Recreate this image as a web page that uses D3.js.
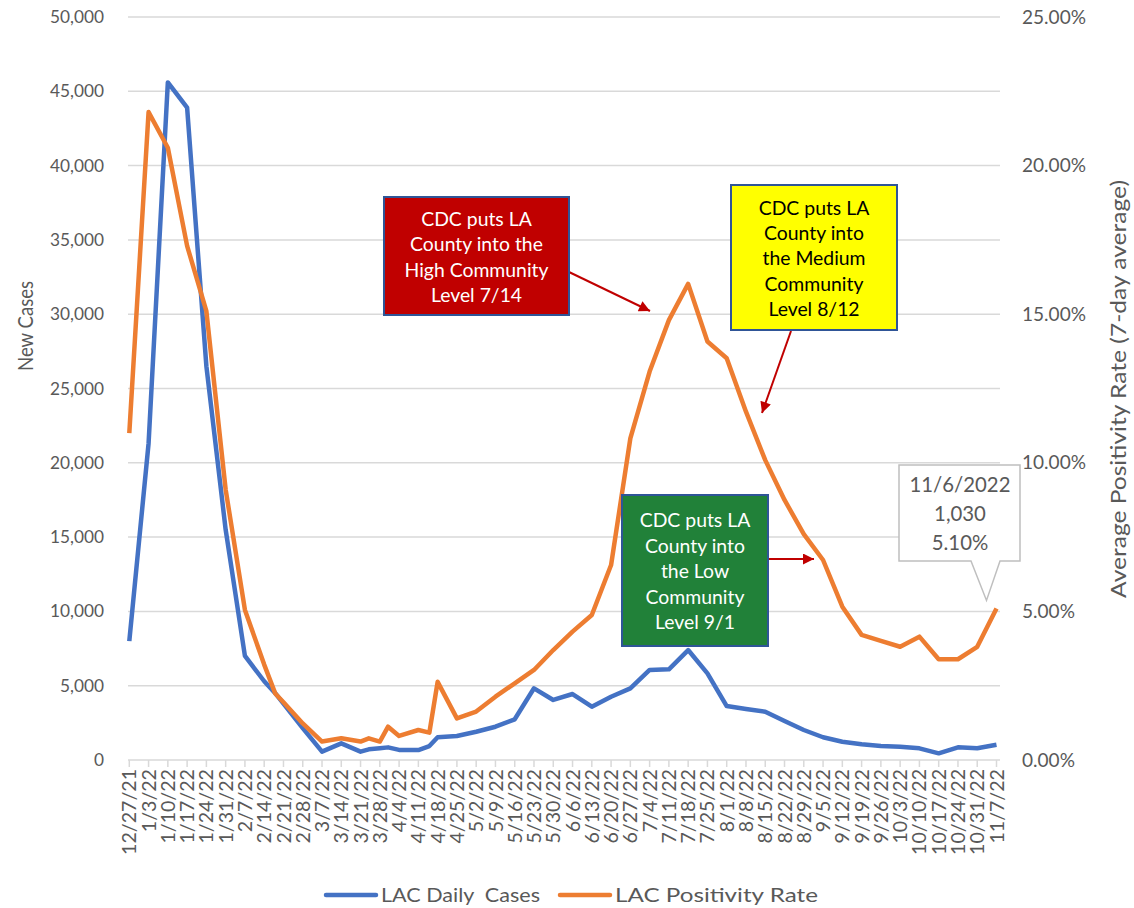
<!DOCTYPE html>
<html><head><meta charset="utf-8">
<script src="https://cdn.jsdelivr.net/npm/d3@7"></script>
<style>
html,body{margin:0;padding:0;background:#fff;}
svg{display:block;font-family:Lato,"Open Sans",sans-serif;}
</style></head>
<body><svg id="chart" width="1134" height="908"></svg>
<script>
// ---- data ----
const dates = ["2021-12-27","2022-01-03","2022-01-10","2022-01-17","2022-01-24","2022-01-31","2022-02-07","2022-02-14","2022-02-18","2022-02-21","2022-02-28","2022-03-07","2022-03-14","2022-03-21","2022-03-24","2022-03-28","2022-03-31","2022-04-04","2022-04-11","2022-04-15","2022-04-18","2022-04-25","2022-05-02","2022-05-09","2022-05-16","2022-05-23","2022-05-30","2022-06-06","2022-06-13","2022-06-20","2022-06-27","2022-07-04","2022-07-11","2022-07-18","2022-07-25","2022-08-01","2022-08-08","2022-08-15","2022-08-22","2022-08-29","2022-09-05","2022-09-12","2022-09-19","2022-09-26","2022-10-03","2022-10-10","2022-10-17","2022-10-24","2022-10-31","2022-11-07"];
const dailyCases = [8000,21300,45600,43900,26500,15500,7000,5300,4500,3800,2150,560,1120,560,720,790,850,680,670,940,1530,1615,1900,2240,2740,4825,4040,4440,3590,4260,4820,6060,6100,7400,5830,3630,3430,3250,2620,2020,1530,1230,1055,940,895,785,450,855,785,1030];
const positivityRate = [11.0,21.8,20.6,17.3,15.1,9.1,5.05,3.21,2.24,1.94,1.23,0.62,0.73,0.62,0.73,0.62,1.12,0.81,1.01,0.92,2.63,1.40,1.63,2.13,2.58,3.03,3.70,4.32,4.88,6.56,10.82,13.07,14.80,16.02,14.08,13.52,11.72,10.09,8.75,7.60,6.73,5.16,4.21,4.01,3.81,4.15,3.39,3.39,3.81,5.10];
const tickLabels = ["12/27/21","1/3/22","1/10/22","1/17/22","1/24/22","1/31/22","2/7/22","2/14/22","2/21/22","2/28/22","3/7/22","3/14/22","3/21/22","3/28/22","4/4/22","4/11/22","4/18/22","4/25/22","5/2/22","5/9/22","5/16/22","5/23/22","5/30/22","6/6/22","6/13/22","6/20/22","6/27/22","7/4/22","7/11/22","7/18/22","7/25/22","8/1/22","8/8/22","8/15/22","8/22/22","8/29/22","9/5/22","9/12/22","9/19/22","9/26/22","10/3/22","10/10/22","10/17/22","10/24/22","10/31/22","11/7/22"];
const leftTicks = [0,5000,10000,15000,20000,25000,30000,35000,40000,45000,50000];
const rightTicks = [0,5,10,15,20,25];
const seriesNames = ["LAC Daily  Cases","LAC Positivity Rate"];
const seriesColors = ["#4472c4","#ed7d31"];
const annotations = [
  {lines:["CDC puts LA","County into the","High Community","Level 7/14"], fill:"#c00000", text:"#ffffff"},
  {lines:["CDC puts LA","County into","the Medium","Community","Level 8/12"], fill:"#ffff00", text:"#000000"},
  {lines:["CDC puts LA","County into","the Low","Community","Level 9/1"], fill:"#218139", text:"#ffffff"}
];
const calloutLines = ["11/6/2022","1,030","5.10%"];

(function(){
const parse = d3.utcParse("%Y-%m-%d");
const parseTick = d3.utcParse("%m/%d/%y");
const svg = d3.select("#chart");
const pL = 129.3, pR = 996.5, pT = 17, pB = 760;
const x = d3.scaleUtc().domain([parse(dates[0]), parse(dates[dates.length-1])]).range([pL, pR]);
const yL = d3.scaleLinear().domain([0,50000]).range([pB, pT]);
const yR = d3.scaleLinear().domain([0,25]).range([pB, pT]);
const grey = "#595959";

function fit(sample, width){
  const t = svg.append("text").attr("font-size",100).style("white-space","pre").text(sample);
  const w = t.node().getComputedTextLength();
  t.remove();
  return 100*width/w;
}
const fsY = fit("50,000",54), fsR = fit("25.00%",64), fsX = fit("12/27/21",86);
const fsBox = fit("High Community",144), fsCall = fit("11/6/2022",101);

svg.append("g").selectAll("line").data(leftTicks.slice(1)).join("line")
  .attr("x1",128).attr("x2",1000).attr("y1",d=>yL(d)).attr("y2",d=>yL(d))
  .attr("stroke","#d9d9d9").attr("stroke-width",1.5);

const xg = svg.append("g");
xg.append("line").attr("x1",128).attr("x2",1000).attr("y1",pB).attr("y2",pB).attr("stroke","#d9d9d9").attr("stroke-width",1.5);
xg.selectAll("line.t").data(tickLabels).join("line").attr("class","t")
  .attr("x1",d=>x(parseTick(d))).attr("x2",d=>x(parseTick(d)))
  .attr("y1",pB).attr("y2",pB+7).attr("stroke","#d9d9d9").attr("stroke-width",1.5);
xg.selectAll("text").data(tickLabels).join("text")
  .attr("transform",d=>`translate(${x(parseTick(d))},${pB+9}) rotate(-90)`)
  .attr("text-anchor","end").attr("dy","0.36em")
  .attr("font-size",fsX).attr("fill",grey).text(d=>d);

const fmt = d3.format(",");
svg.append("g").selectAll("text").data(leftTicks).join("text")
  .attr("x",104).attr("y",d=>yL(d)).attr("dy","0.35em").attr("text-anchor","end")
  .attr("font-size",fsY).attr("fill",grey).text(d=>fmt(d));
svg.append("g").selectAll("text").data(rightTicks).join("text")
  .attr("x",1022).attr("y",d=>yR(d)).attr("dy","0.35em").attr("text-anchor","start")
  .attr("font-size",fsR).attr("fill",grey).text(d=>d3.format(".2f")(d)+"%");

svg.append("text").attr("transform","translate(33,326) rotate(-90)").attr("text-anchor","middle")
  .attr("font-size",21.5).attr("textLength",90).attr("lengthAdjust","spacingAndGlyphs")
  .attr("fill",grey).text("New Cases");
svg.append("text").attr("transform","translate(1126,389) rotate(-90)").attr("text-anchor","middle")
  .attr("font-size",20.5).attr("textLength",418).attr("lengthAdjust","spacingAndGlyphs")
  .attr("fill",grey).text("Average Positivity Rate (7-day average)");

const lineCases = d3.line().x((d,i)=>x(parse(dates[i]))).y(d=>yL(d));
const lineRate = d3.line().x((d,i)=>x(parse(dates[i]))).y(d=>yR(d));
svg.append("path").attr("d",lineCases(dailyCases)).attr("fill","none").attr("stroke",seriesColors[0])
  .attr("stroke-width",4.5).attr("stroke-linejoin","round");
svg.append("path").attr("d",lineRate(positivityRate)).attr("fill","none").attr("stroke",seriesColors[1])
  .attr("stroke-width",4.5).attr("stroke-linejoin","round");

const defs = svg.append("defs");
defs.append("marker").attr("id","arr").attr("viewBox","0 0 10 10").attr("refX",10).attr("refY",5)
  .attr("markerWidth",6).attr("markerHeight",5.5).attr("markerUnits","strokeWidth").attr("orient","auto")
  .append("path").attr("d","M0,0 L10,5 L0,10 Z").attr("fill","#c00000");

const boxes = [
  {x:384,y:197,w:185,h:118, lineY:[219,244,270,295], arrow:[569,272,650,311]},
  {x:731,y:185,w:166,h:145, lineY:[208,233,258,284,309], arrow:[791,331,762,413]},
  {x:622,y:495,w:146,h:151, lineY:[520,546,571,597,622], arrow:[768,559,814,559]}
];
boxes.forEach((b,k)=>{
  const a = annotations[k];
  svg.append("line").attr("x1",b.arrow[0]).attr("y1",b.arrow[1]).attr("x2",b.arrow[2]).attr("y2",b.arrow[3])
    .attr("stroke","#c00000").attr("stroke-width",2).attr("marker-end","url(#arr)");
  svg.append("rect").attr("x",b.x).attr("y",b.y).attr("width",b.w).attr("height",b.h)
    .attr("fill",a.fill).attr("stroke","#2f5597").attr("stroke-width",2);
  svg.append("g").selectAll("text").data(a.lines).join("text")
    .attr("x",b.x+b.w/2).attr("y",(d,i)=>b.lineY[i]).attr("dy","0.35em").attr("text-anchor","middle")
    .attr("font-size",fsBox).attr("fill",a.text).text(d=>d);
});

const lastI = dates.length-1;
const tipX = x(parse(dates[lastI])) - 10, tipY = yR(positivityRate[lastI]) - 8;
svg.append("path")
  .attr("d",`M899,465 H1020 V561 H1000 L${tipX},${tipY} L971,561 H899 Z`)
  .attr("fill","#fff").attr("stroke","#bfbfbf").attr("stroke-width",1.5);
svg.append("g").selectAll("text").data(calloutLines).join("text")
  .attr("x",960).attr("y",(d,i)=>485+i*29).attr("dy","0.35em").attr("text-anchor","middle")
  .attr("font-size",fsCall).attr("fill",grey).text(d=>d);

const leg = [{x:326,tx:381,w:159},{x:560,tx:615,w:203}];
leg.forEach((l,i)=>{
  svg.append("line").attr("x1",l.x).attr("x2",l.x+50).attr("y1",895).attr("y2",895)
    .attr("stroke",seriesColors[i]).attr("stroke-width",4.5).attr("stroke-linecap","round");
  svg.append("text").attr("x",l.tx).attr("y",895).attr("dy","0.35em").attr("font-size",20)
    .attr("textLength",l.w).attr("lengthAdjust","spacingAndGlyphs")
    .attr("fill",grey).style("white-space","pre").text(seriesNames[i]);
});
})();
</script></body></html>
